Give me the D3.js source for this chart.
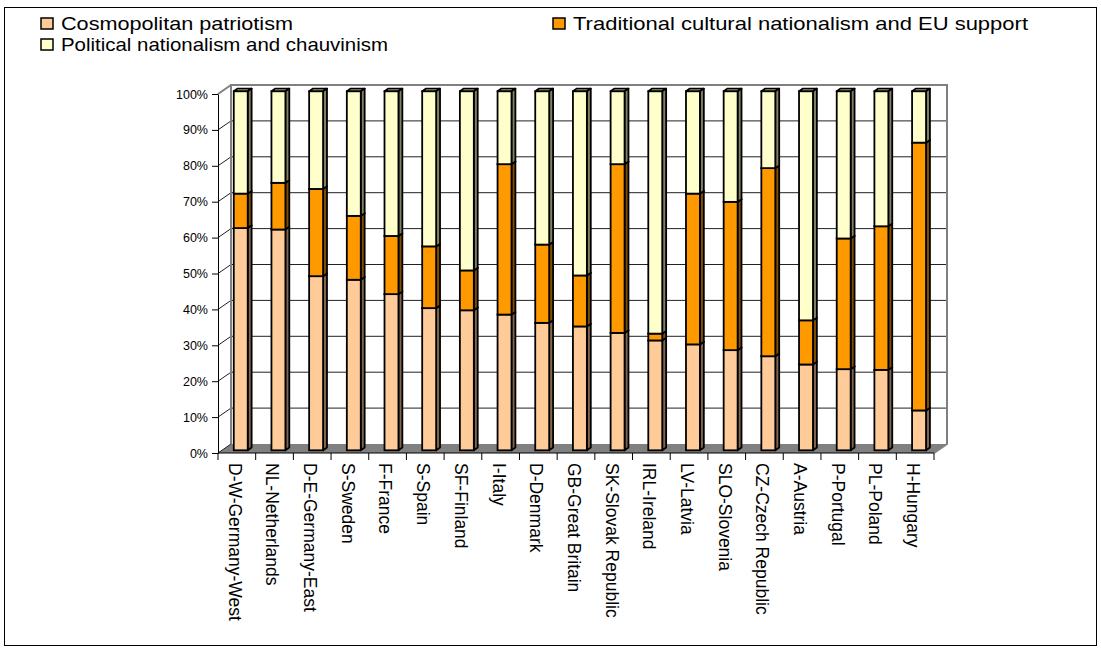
<!DOCTYPE html>
<html>
<head>
<meta charset="utf-8">
<script src="https://cdn.jsdelivr.net/npm/d3@7"></script>
<style>
  body { margin: 0; background: #fff; }
  svg text { font-family: "Liberation Sans", Arial, sans-serif; fill: #000; }
</style>
</head>
<body>
<div id="chart"></div>
<script>
var width = 1101;
var height = 652;

var countries = ["D-W-Germany-West", "NL-Netherlands", "D-E-Germany-East", "S-Sweden", "F-France",
  "S-Spain", "SF-Finland", "I-Italy", "D-Denmark", "GB-Great Britain", "SK-Slovak Republic",
  "IRL-Ireland", "LV-Latvia", "SLO-Slovenia", "CZ-Czech Republic", "A-Austria", "P-Portugal",
  "PL-Poland", "H-Hungary"];

// percent shares
var cosmopolitan = [61.9, 61.5, 48.5, 47.5, 43.5, 39.6, 39.0, 37.8, 35.5, 34.5, 32.7, 30.6, 29.5, 27.9, 26.2, 23.9, 22.6, 22.4, 11.1];
var traditional  = [9.6, 13.0, 24.3, 17.8, 16.2, 17.2, 11.1, 41.9, 21.8, 14.2, 47.0, 1.9, 42.0, 41.3, 52.4, 12.3, 36.4, 40.0, 74.6];
var political    = [28.5, 25.5, 27.2, 34.7, 40.3, 43.2, 49.9, 20.3, 42.7, 51.3, 20.3, 67.5, 28.5, 30.8, 21.4, 63.8, 41.0, 37.6, 14.3];

var seriesNames = ["Cosmopolitan patriotism", "Traditional cultural nationalism and EU support", "Political nationalism and chauvinism"];
var seriesKeys = ["cos", "trad", "pol"];
var front = ["#FFCC99", "#FF9900", "#FFFFCC"];
var side  = ["#806650", "#804C00", "#808066"];
var top_  = ["#E6B88A", "#E68A00", "#E0E0B4"];

var rows = countries.map(function(c, i) {
  return { name: c, cos: cosmopolitan[i], trad: traditional[i], pol: political[i] };
});
var stacked = d3.stack().keys(seriesKeys)(rows);

// plot box (front plane) and depth of the 3d walls
var x0 = 218, x1 = 934;
var depthX = 13, depthY = -9;
var x = d3.scaleBand().domain(countries).range([x0, x1]).paddingInner(0.63).paddingOuter(0.315);
var y = d3.scaleLinear().domain([0, 100]).range([453, 94]);

// bar sits between these fractions of the depth
var t1 = 0.3, t2 = 0.6;
var bx = depthX * t1, by = depthY * t1;
var ddx = depthX * (t2 - t1), ddy = depthY * (t2 - t1);

var svg = d3.select("#chart").append("svg")
  .attr("width", width)
  .attr("height", height);

// outer frame
svg.append("rect")
  .attr("x", 4.5).attr("y", 7.5)
  .attr("width", 1092).attr("height", 638)
  .attr("fill", "none").attr("stroke", "#000").attr("stroke-width", 1);

var ticks = d3.range(0, 101, 10);

// floor
svg.append("path")
  .attr("d", "M" + x0 + "," + y(0) + "L" + x1 + "," + y(0) + "L" + (x1 + depthX) + "," + (y(0) + depthY) +
    "L" + (x0 + depthX) + "," + (y(0) + depthY) + "Z")
  .attr("fill", "#808080");

// back wall gridlines
svg.selectAll("line.grid")
  .data(ticks.filter(function(d) { return d > 0 && d < 100; }))
  .enter().append("line")
  .attr("class", "grid")
  .attr("x1", x0 + depthX).attr("x2", x1 + depthX)
  .attr("y1", function(d) { return y(d) + depthY; })
  .attr("y2", function(d) { return y(d) + depthY; })
  .attr("stroke", "#222").attr("stroke-width", 1);

// side wall diagonals
svg.selectAll("line.diag")
  .data(ticks)
  .enter().append("line")
  .attr("class", "diag")
  .attr("x1", x0).attr("x2", x0 + depthX)
  .attr("y1", function(d) { return y(d); })
  .attr("y2", function(d) { return y(d) + depthY; })
  .attr("stroke", function(d) { return d == 100 ? "#808080" : "#222"; })
  .attr("stroke-width", function(d) { return d == 100 ? 2 : 1; });

// wall edges
svg.append("path")
  .attr("d", "M" + (x0 + depthX) + "," + (y(0) + depthY) + "V" + (y(100) + depthY) +
    "H" + (x1 + depthX) + "V" + (y(0) + depthY) + "L" + x1 + "," + y(0))
  .attr("fill", "none").attr("stroke", "#808080").attr("stroke-width", 2);

// bars
var bars = svg.selectAll("g.series")
  .data(stacked)
  .enter().append("g")
  .attr("class", "series");

bars.each(function(s, si) {
  var g = d3.select(this);
  s.forEach(function(d, i) {
    var left = x(countries[i]) + bx;
    var w = x.bandwidth();
    var yt = y(d[1]) + by, yb = y(d[0]) + by;
    if (yb - yt < 0.01) return;
    // top face
    g.append("path")
      .attr("d", "M" + left + "," + yt + "l" + ddx + "," + ddy + "h" + w + "l" + (-ddx) + "," + (-ddy) + "Z")
      .attr("fill", top_[si]).attr("stroke", "#000").attr("stroke-width", 1.8).attr("stroke-linejoin", "round");
    // side face
    g.append("path")
      .attr("d", "M" + (left + w) + "," + yt + "l" + ddx + "," + ddy + "V" + (yb + ddy) + "L" + (left + w) + "," + yb + "Z")
      .attr("fill", side[si]).attr("stroke", "#000").attr("stroke-width", 1.8).attr("stroke-linejoin", "round");
    // front face
    g.append("rect")
      .attr("x", left).attr("y", yt)
      .attr("width", w).attr("height", yb - yt)
      .attr("fill", front[si]).attr("stroke", "#000").attr("stroke-width", 1.8);
  });
});

// value axis (front)
var yAxis = d3.axisLeft(y)
  .tickValues(ticks)
  .tickSize(6)
  .tickSizeOuter(0)
  .tickPadding(4)
  .tickFormat(function(d) { return d + "%"; });

var ya = svg.append("g")
  .attr("transform", "translate(" + x0 + ",0)")
  .call(yAxis);
ya.selectAll("text").style("font-size", "12.5px").attr("font-family", null);
ya.selectAll("line, path").attr("stroke", "#000");

// category axis
svg.append("line")
  .attr("x1", x0).attr("x2", x1)
  .attr("y1", y(0)).attr("y2", y(0))
  .attr("stroke", "#000");

var step = x.step();
svg.selectAll("line.xtick")
  .data(d3.range(countries.length + 1))
  .enter().append("line")
  .attr("class", "xtick")
  .attr("x1", function(i) { return x0 + i * step; })
  .attr("x2", function(i) { return x0 + i * step; })
  .attr("y1", y(0)).attr("y2", y(0) + 7)
  .attr("stroke", "#000");

svg.selectAll("text.xlabel")
  .data(countries)
  .enter().append("text")
  .attr("class", "xlabel")
  .attr("transform", function(d) { return "translate(" + (x(d) + x.bandwidth() / 2 - 2) + "," + (y(0) + 10) + ") rotate(90)"; })
  .attr("dy", "0.35em")
  .style("font-size", "17.5px")
  .text(function(d) { return d; });

// legend
var legendItems = [
  { i: 0, x: 41, y: 18, len: 232 },
  { i: 1, x: 553, y: 18, len: 455 },
  { i: 2, x: 41, y: 39, len: 327 }
];
var legend = svg.append("g").attr("class", "legend");
legendItems.forEach(function(it) {
  legend.append("rect")
    .attr("x", it.x).attr("y", it.y)
    .attr("width", 12).attr("height", 11)
    .attr("fill", front[it.i]).attr("stroke", "#000").attr("stroke-width", 1.5);
  legend.append("text")
    .attr("x", it.x + 20).attr("y", it.y + 11.5)
    .attr("textLength", it.len)
    .attr("lengthAdjust", "spacingAndGlyphs")
    .style("font-size", "19px")
    .text(seriesNames[it.i]);
});
</script>
</body>
</html>
